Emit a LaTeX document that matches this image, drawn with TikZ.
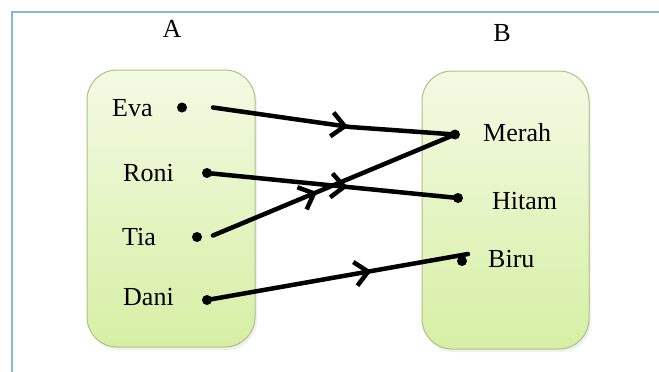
\documentclass[tikz,border=0pt]{standalone}
\usepackage{fontspec}
\setmainfont{Liberation Serif}
\usetikzlibrary{arrows.meta,decorations.markings,shadows}
\definecolor{frameblue}{HTML}{8DB4E3}
\definecolor{boxtop}{HTML}{F4FAE4}
\definecolor{boxbot}{HTML}{D6EFA4}
\definecolor{boxline}{HTML}{A9C47E}
\begin{document}
\begin{tikzpicture}[x=1pt,y=-1pt,
  setbox/.style={rectangle, rounded corners=30pt, draw=boxline, line width=1pt,
    top color=boxtop, bottom color=boxbot,
    drop shadow={opacity=0.12, shadow xshift=2pt, shadow yshift=-3pt}},
  lbl/.style={font=\fontsize{26}{28}\selectfont, inner sep=0pt, anchor=west},
  head/.style={font=\fontsize{26}{28}\selectfont, inner sep=0pt},
  dotpt/.style={circle, fill=black, inner sep=0pt, minimum size=10pt},
  link/.style={line width=4.5pt, line cap=round, line join=round},
  midarrow/.style={postaction={decorate}, decoration={markings,
    mark=at position #1 with {\arrow{Straight Barb[length=13pt,width=24pt]}}}},
]
\useasboundingbox (0,0) rectangle (659,372);

% outer frame (top and left edges)
\draw[frameblue, line width=2pt] (12,372) -- (12,12) -- (659,12);

% the two sets
\node[setbox, minimum width=168pt, minimum height=277pt] (setA) at (171,208.5) {};
\node[setbox, minimum width=167pt, minimum height=278pt] (setB) at (505.5,210) {};

% set names
\node[head] (nameA) at (172,29) {A};
\node[head] (nameB) at (502,33) {B};

% members of A
\node[lbl] (eva)  at (112,108.5) {Eva};
\node[lbl] (roni) at (123,173.5) {Roni};
\node[lbl] (tia)  at (122,237)   {Tia};
\node[lbl] (dani) at (123,297)   {Dani};

% members of B
\node[lbl] (merah) at (483,132.5) {Merah};
\node[lbl] (hitam) at (492,201)   {Hitam};
\node[lbl] (biru)  at (488,259)   {Biru};

% points
\node[dotpt] (pEva)   at (182,107.5) {};
\node[dotpt] (pRoni)  at (207,173)   {};
\node[dotpt] (pTia)   at (197,237)   {};
\node[dotpt] (pDani)  at (207,300)   {};
\node[dotpt] (pMerah) at (455,134.5) {};
\node[dotpt] (pHitam) at (458,198)   {};
\node[dotpt] (pBiru)  at (462,261)   {};

% connector ends
\coordinate (eStart) at (213,107.5);
\coordinate (eBend)  at (350,127);
\coordinate (tStart) at (213,235.5);
\coordinate (dEnd)   at (468,254);

% mapping
\draw[link, midarrow=0.56] (eStart) -- (eBend) -- (pMerah.center);
\draw[link, midarrow=0.56] (pRoni.center) -- (pHitam.center);
\draw[link, midarrow=0.43] (tStart) -- (pMerah.center);
\draw[link, midarrow=0.63] (pDani.center) -- (dEnd);
\end{tikzpicture}
\end{document}
